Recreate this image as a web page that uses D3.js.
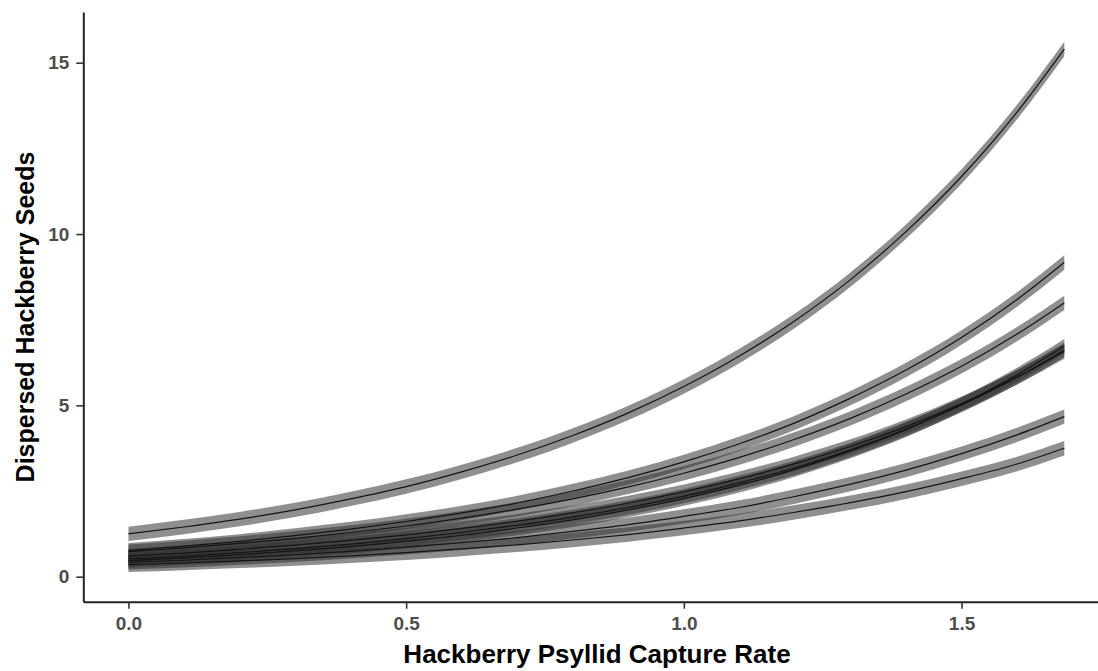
<!DOCTYPE html>
<html>
<head>
<meta charset="utf-8">
<script src="https://cdn.jsdelivr.net/npm/d3@7"></script>
<style>
  html, body { margin: 0; padding: 0; background: #ffffff; }
  svg { display: block; }
</style>
</head>
<body>
<div id="chart"></div>
<script>
// Capture rate at which each fitted curve was evaluated
const captureRate = [0, 0.1, 0.2, 0.3, 0.4, 0.5, 0.6, 0.7, 0.8, 0.9, 1.0,
                     1.1, 1.2, 1.3, 1.4, 1.5, 1.6, 1.685];

// Predicted dispersed seeds, one array per fitted curve
const seedsT  = [1.25, 1.45, 1.68, 1.95, 2.27, 2.63, 3.06, 3.55, 4.12, 4.78, 5.55, 6.44, 7.47, 8.67, 10.07, 11.68, 13.56, 15.40];
const seedsA  = [0.77, 0.89, 1.03, 1.20, 1.39, 1.61, 1.86, 2.15, 2.50, 2.89, 3.35, 3.88, 4.49, 5.21, 6.03, 6.98, 8.09, 9.17];
const seedsB  = [0.73, 0.84, 0.97, 1.12, 1.29, 1.48, 1.71, 1.97, 2.27, 2.62, 3.02, 3.48, 4.01, 4.62, 5.33, 6.14, 7.08, 7.99];
const seedsC1 = [0.60, 0.69, 0.80, 0.92, 1.06, 1.22, 1.41, 1.62, 1.87, 2.15, 2.48, 2.86, 3.30, 3.80, 4.38, 5.05, 5.82, 6.57];
const seedsC2 = [0.52, 0.60, 0.70, 0.82, 0.95, 1.11, 1.29, 1.50, 1.74, 2.02, 2.35, 2.74, 3.18, 3.70, 4.31, 5.01, 5.82, 6.62];
const seedsC3 = [0.47, 0.55, 0.64, 0.76, 0.88, 1.04, 1.21, 1.42, 1.66, 1.95, 2.28, 2.67, 3.13, 3.67, 4.29, 5.03, 5.89, 6.73];
const seedsD  = [0.42, 0.48, 0.56, 0.64, 0.74, 0.86, 0.99, 1.14, 1.32, 1.52, 1.76, 2.02, 2.34, 2.70, 3.11, 3.59, 4.14, 4.67];
const seedsE  = [0.35, 0.40, 0.46, 0.53, 0.61, 0.70, 0.81, 0.93, 1.07, 1.23, 1.42, 1.63, 1.88, 2.16, 2.48, 2.86, 3.29, 3.75];

// Half-width of the interval around each curve (seeds)
const intervalHalfWidth = 0.21;

const xTicks = [0, 0.5, 1.0, 1.5];
const yTicks = [0, 5, 10, 15];
const xTitle = "Hackberry Psyllid Capture Rate";
const yTitle = "Dispersed Hackberry Seeds";

const curves = [seedsT, seedsA, seedsB, seedsC1, seedsC2, seedsC3, seedsD, seedsE];

const W = 1098, H = 671;
const svg = d3.select("#chart").append("svg")
  .attr("width", W).attr("height", H);

const panel = { left: 83.3, right: 1111.5, top: 12, bottom: 601.7 };

const x = d3.scaleLinear().domain([-0.0813, 1.77]).range([panel.left, panel.right]);
const y = d3.scaleLinear().domain([-0.73, 16.48]).range([panel.bottom, panel.top]);

const rows = vals => captureRate.map((r, i) => ({ r, v: vals[i] }));

const band = d3.area()
  .x(d => x(d.r))
  .y0(d => y(d.v - intervalHalfWidth))
  .y1(d => y(d.v + intervalHalfWidth))
  .curve(d3.curveMonotoneX);

const line = d3.line()
  .x(d => x(d.r))
  .y(d => y(d.v))
  .curve(d3.curveMonotoneX);

// Intervals
svg.append("g").selectAll("path")
  .data(curves)
  .join("path")
  .attr("d", c => band(rows(c)))
  .attr("fill", "#333333")
  .attr("fill-opacity", 0.55)
  .attr("stroke", "none");

// Fitted curves
svg.append("g").selectAll("path")
  .data(curves)
  .join("path")
  .attr("d", c => line(rows(c)))
  .attr("fill", "none")
  .attr("stroke", "#141414")
  .attr("stroke-width", 1.2);

const font = "'Liberation Sans', Arial, sans-serif";

// X axis
const xAxis = svg.append("g")
  .attr("transform", `translate(0,${panel.bottom})`)
  .call(d3.axisBottom(x).tickValues(xTicks).tickFormat(d3.format(".1f"))
        .tickSizeInner(7).tickSizeOuter(0).tickPadding(8));
xAxis.select(".domain").attr("stroke", "#222").attr("stroke-width", 2);
xAxis.selectAll(".tick line").attr("stroke", "#333").attr("stroke-width", 1.6);
xAxis.selectAll(".tick text")
  .attr("fill", "#4d4d4d").style("font-family", font)
  .style("font-weight", "bold").style("font-size", "19px");

// Y axis
const yAxis = svg.append("g")
  .attr("transform", `translate(${panel.left},0)`)
  .call(d3.axisLeft(y).tickValues(yTicks).tickFormat(d3.format("d"))
        .tickSizeInner(7).tickSizeOuter(0).tickPadding(7));
yAxis.select(".domain").attr("stroke", "#222").attr("stroke-width", 2);
yAxis.selectAll(".tick line").attr("stroke", "#333").attr("stroke-width", 1.6);
yAxis.selectAll(".tick text")
  .attr("fill", "#4d4d4d").style("font-family", font)
  .style("font-weight", "bold").style("font-size", "19px");

// Axis titles
svg.append("text")
  .attr("x", 597)
  .attr("y", 663)
  .attr("text-anchor", "middle")
  .style("font-family", font).style("font-weight", "bold").style("font-size", "26px")
  .attr("fill", "#000")
  .text(xTitle);

svg.append("text")
  .attr("transform", "translate(34,317) rotate(-90)")
  .attr("text-anchor", "middle")
  .style("font-family", font).style("font-weight", "bold").style("font-size", "25px")
  .attr("fill", "#000")
  .text(yTitle);
</script>
</body>
</html>
